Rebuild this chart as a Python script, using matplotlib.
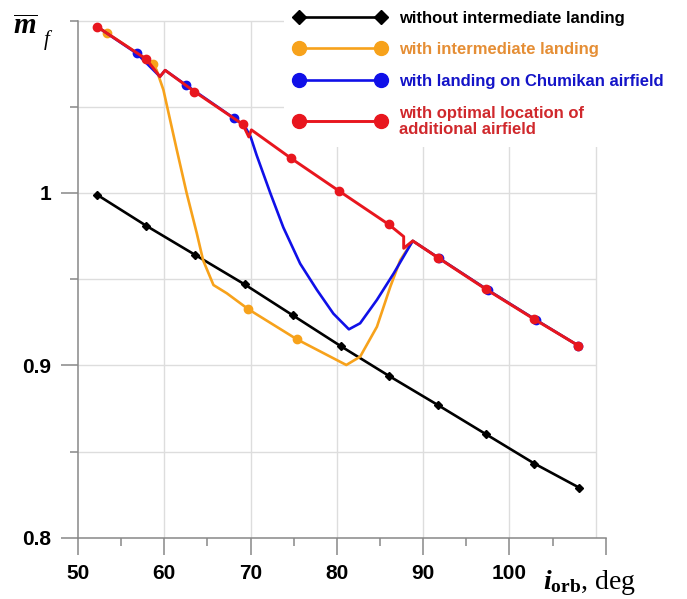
import matplotlib
matplotlib.use("Agg")
import matplotlib.pyplot as plt
from matplotlib.lines import Line2D

plt.rcParams['font.family'] = ['Liberation Sans', 'DejaVu Sans']
plt.rcParams['mathtext.fontset'] = 'custom'
plt.rcParams['mathtext.rm'] = 'Liberation Serif'
plt.rcParams['mathtext.it'] = 'Liberation Serif:italic'
plt.rcParams['mathtext.bf'] = 'Liberation Serif:italic:bold'
plt.rcParams['mathtext.sf'] = 'Liberation Serif:bold'

# data (inclination, deg / relative mass)
black_x = [52.2, 57.9, 63.6, 69.3, 74.9, 80.5, 86.0, 91.7, 97.3, 102.9, 108.1]
black_y = [0.999, 0.981, 0.964, 0.947, 0.929, 0.911, 0.894, 0.877, 0.860, 0.843, 0.829]

orange_x = [52.2, 53.4, 57.9, 58.7, 59.1, 59.9, 61.45, 62.6, 63.77, 64.5, 65.7,
            67.25, 69.76, 75.37, 81.1, 82.7, 84.65, 86.2, 87.35, 88.8, 91.9, 97.5, 103.1, 108.0]
orange_y = [1.0965, 1.0927, 1.0777, 1.0749, 1.0714, 1.0598, 1.025, 0.9998, 0.9766, 0.961, 0.9466,
            0.9418, 0.9325, 0.9151, 0.9002, 0.905, 0.9224, 0.9456, 0.961, 0.9722, 0.962, 0.9437, 0.9263, 0.9114]
orange_marks = [1, 3, 12, 13]

blue_x = [52.2, 56.8, 59.5, 60.1, 62.5, 68.1, 69.3, 70.0, 70.7, 72.3, 73.8, 75.75, 77.7, 79.6,
          81.4, 82.7, 84.65, 86.6, 88.8, 91.9, 97.5, 103.1, 108.0]
blue_y = [1.0965, 1.081, 1.0675, 1.0712, 1.0627, 1.0433, 1.039, 1.0327, 1.022, 0.9998, 0.980, 0.959, 0.9437, 0.930,
          0.9209, 0.9244, 0.938, 0.9534, 0.9722, 0.962, 0.9437, 0.9263, 0.9114]
blue_marks = [1, 4, 5, 19, 20, 21, 22]

red_x = [52.2, 57.9, 59.5, 60.1, 63.5, 69.1, 69.8, 70.1, 74.7, 80.3, 86.0, 87.75, 87.75, 88.8,
         91.7, 97.3, 102.9, 108.0]
red_y = [1.0965, 1.0777, 1.0675, 1.0712, 1.0588, 1.0398, 1.0325, 1.0366, 1.0201, 1.001, 0.9818, 0.9747, 0.9679, 0.9722,
         0.9625, 0.9441, 0.9267, 0.9114]
red_marks = [0, 1, 4, 5, 8, 9, 10, 14, 15, 16, 17]

labels = ["without intermediate landing",
          "with intermediate landing",
          "with landing on Chumikan airfield",
          "with optimal location of\nadditional airfield"]

xticks = [50, 60, 70, 80, 90, 100]
yticks = [0.8, 0.9, 1.0]
ytick_labels = ["0.8", "0.9", "1"]

c_black, c_orange, c_blue, c_red = "#000000", "#F7A21B", "#1010E8", "#E8161E"
label_colors = ["#000000", "#E58E35", "#1414C8", "#D0282C"]

fig = plt.figure(figsize=(6.87, 5.99), dpi=100)
ax = fig.add_axes([78/687, 1-537.7/599, (606-78)/687, (537.7-20.6)/599])
ax.set_xlim(50, 111.2)
ax.set_ylim(0.8, 1.1)

# light grid, stops at 110
ax.hlines([0.85, 0.9, 0.95, 1.0, 1.05, 1.1], 50, 110, color="#dddddd", lw=1, zorder=0, clip_on=False)
ax.vlines([60, 70, 80, 90, 100, 110], 0.8, 1.1, color="#dddddd", lw=1, zorder=0)

ax.plot(black_x, black_y, color=c_black, lw=1.9, marker="D", ms=3.8, zorder=2)
ax.plot(orange_x, orange_y, color=c_orange, lw=1.9, marker="o", ms=6, markevery=orange_marks, zorder=3)
ax.plot(blue_x, blue_y, color=c_blue, lw=1.9, marker="o", ms=6, markevery=blue_marks, zorder=4)
ax.plot(red_x, red_y, color=c_red, lw=2.1, marker="o", ms=6, markevery=red_marks, zorder=5)

for s in ["top", "right"]:
    ax.spines[s].set_visible(False)
for s in ["left", "bottom"]:
    ax.spines[s].set_color("#888888")
    ax.spines[s].set_linewidth(1.1)

ax.set_xticks(xticks + [111.2])
ax.set_xticklabels([str(t) for t in xticks] + [""])
ax.set_xticks([55, 65, 75, 85, 95, 105], minor=True)
ax.set_yticks(yticks)
ax.set_yticklabels(ytick_labels)
ax.set_yticks([0.85, 0.95, 1.05, 1.1], minor=True)
ax.tick_params(which="major", direction="out", length=12, width=1.1, color="#888888",
               labelsize=15, pad=7)
ax.tick_params(which="minor", direction="out", length=6, width=1.1, color="#888888")
for t in ax.get_xticklabels() + ax.get_yticklabels():
    t.set_fontweight("bold")

fig.text(13/687, 1-34/599, r"$\overline{\mathbf{m}}$", fontsize=21,
         ha="left", va="baseline")
fig.text(44/687, 1-45/599, "f", fontsize=15, family="Liberation Serif", style="italic",
         ha="left", va="baseline")
fig.text(543/687, 1-589/599, r"$\mathbf{i}_{\mathsf{orb}}$, deg", fontsize=20,
         family="Liberation Serif", ha="left", va="baseline")

handles = [Line2D([], [], color=c_black, lw=1.9, marker="D", ms=7.5),
           Line2D([], [], color=c_orange, lw=1.9, marker="o", ms=10),
           Line2D([], [], color=c_blue, lw=1.9, marker="o", ms=10),
           Line2D([], [], color=c_red, lw=2.1, marker="o", ms=10)]
leg = ax.legend(handles, labels, loc="upper left", bbox_to_anchor=(284/687, 0.999),
                bbox_transform=fig.transFigure, numpoints=2, handlelength=5.5,
                handletextpad=0.8, labelspacing=1.0, borderpad=0.6, borderaxespad=0,
                frameon=True, framealpha=1, facecolor="white", edgecolor="none",
                fancybox=False, prop={"size": 12, "weight": "bold"})
leg.set_zorder(10)
for txt, col in zip(leg.get_texts(), label_colors):
    txt.set_color(col)
leg.get_texts()[3].set_linespacing(1.1)

fig.savefig("out.png", dpi=100)
